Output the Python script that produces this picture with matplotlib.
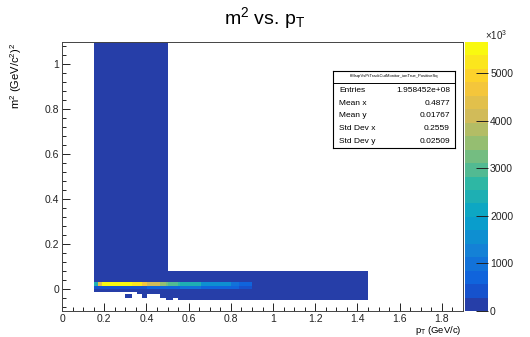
import numpy as np
import matplotlib
matplotlib.use("Agg")
import matplotlib.pyplot as plt
from matplotlib.colors import ListedColormap, BoundaryNorm
from matplotlib.ticker import MultipleLocator, FixedLocator, FixedFormatter

plt.rcParams["font.family"] = ["Liberation Sans", "DejaVu Sans"]
plt.rcParams["mathtext.default"] = "regular"

# ---- histogram content (counts in units of 10^3) ----
pt_edges = [0.15, 0.17, 0.19, 0.30, 0.33, 0.355, 0.38, 0.405, 0.465, 0.495,
            0.50, 0.525, 0.55, 0.56, 0.66, 0.80, 0.84, 0.90, 1.45]
m2_edges = [-0.05, -0.04, -0.025, -0.015, 0.0, 0.01, 0.0275, 0.08, 1.2]
# lowest / highest filled m2 in each pT column
col_low = [-0.015, -0.015, -0.015, -0.015, -0.015, -0.025, -0.04, -0.025, -0.04,
           -0.05, -0.05, -0.04, -0.05, -0.05, -0.05, -0.05, -0.05, -0.05]
col_high = [1.2] * 10 + [0.08] * 8
# the bright band at m2 ~ 0.01-0.0275 and the row just below it
band_counts = [2300, 4400, 5650, 5500, 5300, 5100, 4800, 4200, 3500,
               3200, 3000, 2900, 2800, 2300, 1500, 1000, 700, 60]
under_counts = [300, 300, 300, 300, 300, 300, 500, 700, 800,
                800, 800, 800, 800, 900, 800, 600, 300, 60]
bulk_count = 60
# isolated filled bins below the main block: (pT low edge, m2 low edge)
islands = [(0.30, -0.04)]
z_max = 5650
n_levels = 20

cbar_ticks = [0, 1000, 2000, 3000, 4000, 5000]
x_ticks = [0, 0.2, 0.4, 0.6, 0.8, 1.0, 1.2, 1.4, 1.6, 1.8]
x_labels = ["0", "0.2", "0.4", "0.6", "0.8", "1", "1.2", "1.4", "1.6", "1.8"]
y_ticks = [0, 0.2, 0.4, 0.6, 0.8, 1.0]
y_labels = ["0", "0.2", "0.4", "0.6", "0.8", "1"]

stats_name = "hMsqrVsPtTrackCutMonitor_ionTrue_PositiveSq"
stats_rows = [("Entries", "1.958452e+08"), ("Mean x", "0.4877"), ("Mean y", "0.01767"),
              ("Std Dev x", "0.2559"), ("Std Dev y", "0.02509")]

# ---- fill the 2D array ----
counts = np.zeros((len(m2_edges) - 1, len(pt_edges) - 1))
for j in range(len(pt_edges) - 1):
    for i in range(len(m2_edges) - 1):
        lo, hi = m2_edges[i], m2_edges[i + 1]
        if lo >= col_low[j] - 1e-9 and hi <= col_high[j] + 1e-9:
            counts[i, j] = bulk_count
        if lo == 0.01:
            counts[i, j] = band_counts[j]
        elif lo == 0.0:
            counts[i, j] = under_counts[j]
for px, my in islands:
    counts[m2_edges.index(my), pt_edges.index(px)] = bulk_count
counts = np.ma.masked_equal(counts, 0)

# ---- ROOT kBird palette, 20 contour levels ----
stops = [0.0, 0.125, 0.25, 0.375, 0.5, 0.625, 0.75, 0.875, 1.0]
red = [0.2082, 0.0592, 0.0780, 0.0232, 0.1802, 0.5301, 0.8186, 0.9956, 0.9764]
green = [0.1664, 0.3599, 0.5041, 0.6419, 0.7178, 0.7492, 0.7328, 0.7862, 0.9832]
blue = [0.5293, 0.8684, 0.8385, 0.7914, 0.6425, 0.4662, 0.3499, 0.1968, 0.0539]
table = []
for g in range(1, len(stops)):
    n = int(np.floor(255 * stops[g]) - np.floor(255 * stops[g - 1]))
    for c in range(n):
        t = c / n
        table.append((red[g - 1] + t * (red[g] - red[g - 1]),
                      green[g - 1] + t * (green[g] - green[g - 1]),
                      blue[g - 1] + t * (blue[g] - blue[g - 1])))
level_colors = [table[min(int((k + 0.99) * len(table) / n_levels), len(table) - 1)]
                for k in range(n_levels)]
cmap = ListedColormap(level_colors)
norm = BoundaryNorm(np.linspace(0, z_max, n_levels + 1), n_levels)

W, H = 530, 337
fig = plt.figure(figsize=(W / 100, H / 100), dpi=100)
ax = fig.add_axes([62 / W, 1 - 311 / H, 401 / W, 269 / H])
mesh = ax.pcolormesh(pt_edges, m2_edges, counts, cmap=cmap, norm=norm, antialiased=False)
ax.set_xlim(0, 1.9)
ax.set_ylim(-0.1, 1.1)

ax.xaxis.set_major_locator(FixedLocator(x_ticks))
ax.xaxis.set_major_formatter(FixedFormatter(x_labels))
ax.yaxis.set_major_locator(FixedLocator(y_ticks))
ax.yaxis.set_major_formatter(FixedFormatter(y_labels))
ax.xaxis.set_minor_locator(MultipleLocator(0.05))
ax.yaxis.set_minor_locator(MultipleLocator(0.04))
ax.tick_params(which="both", direction="in", top=False, right=False, width=0.7,
               labelsize=7.5, colors="#222222")
ax.tick_params(axis="x", which="major", length=5.5, pad=2)
ax.tick_params(axis="x", which="minor", length=2.8)
ax.tick_params(axis="y", which="major", length=6, pad=2)
ax.tick_params(axis="y", which="minor", length=3)
for s in ax.spines.values():
    s.set_linewidth(0.7)
    s.set_color("#444444")

# palette axis
cax = fig.add_axes([465 / W, 1 - 311 / H, 23 / W, 269 / H])
cb = fig.colorbar(mesh, cax=cax, ticks=cbar_ticks)
cb.outline.set_visible(False)
cax.set_yticklabels([str(t) for t in cbar_ticks])
cax.tick_params(direction="in", length=8.5, width=0.7, labelsize=7.5, pad=1.5,
                colors="#222222")
cax.minorticks_off()
fig.text(496 / W, 1 - 35 / H, r"$\times$10$^{3}$", fontsize=7, ha="center", va="center",
         color="#222222")

fig.text(265 / W, 1 - 18 / H, r"m$^{2}$ vs. p$_{T}$", fontsize=14, ha="center", va="center")
fig.text(462 / W, 1 - 333 / H, r"p$_{T}$ (GeV/c)", fontsize=6.8, ha="right", va="baseline")
fig.text(16 / W, 1 - 43 / H, r"m$^{2}$ (GeV/c$^{2}$)$^{2}$", fontsize=8, rotation=90,
         ha="center", va="top")

# stats box
sax = fig.add_axes([333 / W, 1 - 148 / H, 122 / W, 77 / H])
sax.set_xlim(0, 122)
sax.set_ylim(77, 0)
sax.set_xticks([])
sax.set_yticks([])
for s in sax.spines.values():
    s.set_linewidth(0.8)
sax.text(61, 5.5, stats_name, fontsize=3, ha="center", va="center")
sax.axhline(11.7, color="black", lw=0.7)
for k, (name, val) in enumerate(stats_rows):
    yy = 19.7 + k * 12.6
    sax.text(6, yy, name, fontsize=6, ha="left", va="center")
    sax.text(117, yy, val, fontsize=6, ha="right", va="center")

fig.savefig("out.png", dpi=100)
